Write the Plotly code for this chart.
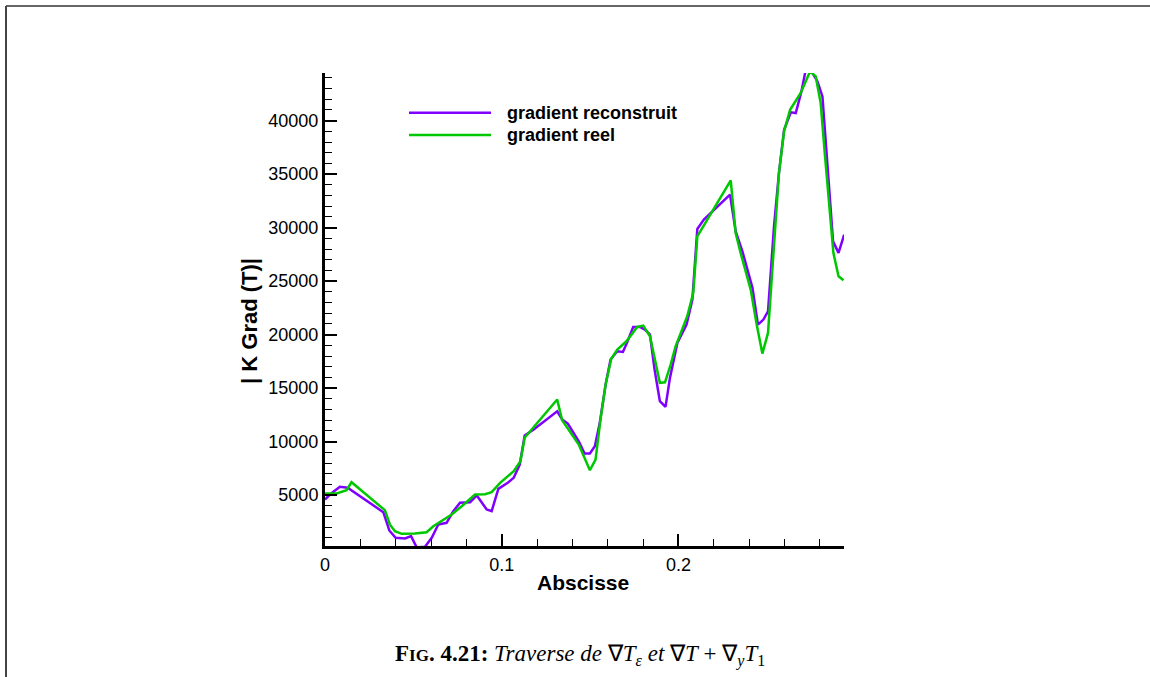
import plotly.graph_objects as go

# ---- data ----
x_reconstruit = [0, 0.0028, 0.0084, 0.0128, 0.033, 0.0364, 0.040, 0.0453, 0.0487, 0.0519,
                 0.0566, 0.0604, 0.0641, 0.0688, 0.0726, 0.0764, 0.0821, 0.0859, 0.0915, 0.0943,
                 0.0981, 0.1034, 0.1068, 0.1102, 0.113, 0.1181, 0.1314, 0.1342, 0.1374, 0.1436,
                 0.1469, 0.1499, 0.1527, 0.1555, 0.1588, 0.1616, 0.1654, 0.1686, 0.171, 0.1744,
                 0.1782, 0.181, 0.1839, 0.1865, 0.1895, 0.1927, 0.1952, 0.1994, 0.2046, 0.2079,
                 0.2107, 0.2144, 0.2292, 0.2324, 0.2362, 0.2419, 0.245, 0.2481, 0.2507, 0.2541,
                 0.2569, 0.2598, 0.2636, 0.2664, 0.2696, 0.272, 0.2749, 0.2787, 0.2815, 0.2844,
                 0.2875, 0.2906, 0.2938]
y_reconstruit = [4595, 5060, 5780, 5690, 3410, 1700, 1020, 950, 1170, 120,
                 180, 1020, 2260, 2420, 3500, 4290, 4340, 4970, 3660, 3500,
                 5590, 6150, 6620, 7860, 10570, 11130, 12840, 12070, 11690, 10040,
                 8890, 8890, 9570, 11760, 15340, 17670, 18450, 18390, 19290, 20720,
                 20720, 20470, 20000, 16740, 13780, 13250, 15960, 19230, 20940, 23270,
                 29880, 30750, 33080, 29650, 27790, 24370, 20940, 21410, 22180, 30120,
                 35110, 39150, 40770, 40710, 42730, 44700, 44700, 43660, 42260, 35420,
                 28720, 27640, 29350]

x_reel = [0, 0.0066, 0.0122, 0.015, 0.0339, 0.0367, 0.0396, 0.0434, 0.0509, 0.0575,
          0.0613, 0.0651, 0.0717, 0.0774, 0.0849, 0.0906, 0.0943, 0.0991, 0.1038, 0.1068,
          0.1106, 0.113, 0.1314, 0.1342, 0.1436, 0.1499, 0.1531, 0.1559, 0.1588, 0.162,
          0.1654, 0.1706, 0.1767, 0.1801, 0.1839, 0.1895, 0.1924, 0.1956, 0.1984, 0.205,
          0.2084, 0.2107, 0.2296, 0.2324, 0.2352, 0.2409, 0.2443, 0.2475, 0.2507, 0.2541,
          0.2569, 0.2598, 0.2632, 0.2692, 0.2745, 0.2777, 0.2805, 0.2828, 0.2853, 0.2877,
          0.2906, 0.2934]
y_reel = [5155, 5155, 5460, 6210, 3600, 2260, 1635, 1390, 1420, 1540,
          2100, 2480, 3190, 3970, 5060, 5090, 5280, 6150, 6770, 7240,
          8170, 10360, 13940, 12000, 9730, 7330, 8330, 12070, 15340, 17740,
          18610, 19380, 20720, 20850, 19850, 15500, 15550, 17200, 18910, 21720,
          23900, 29190, 34420, 29500, 27640, 24210, 20940, 18230, 20160, 28250,
          35110, 39000, 41020, 42580, 44600, 44130, 41650, 36980, 31990, 27640,
          25450, 25080]

series_names = ["gradient reconstruit", "gradient reel"]
series_colors = ["#8000FF", "#00C800"]
x_tickvals = [0, 0.1, 0.2]
x_ticktext = ["0", "0.1", "0.2"]
y_tickvals = [5000, 10000, 15000, 20000, 25000, 30000, 35000, 40000]
y_ticktext = ["5000", "10000", "15000", "20000", "25000", "30000", "35000", "40000"]
x_title = "Abscisse"
y_title = "| K Grad (T)|"
caption = ("<b>F<span style='font-size:17px'>IG</span>. 4.21:</b> "
           "<i>Traverse de </i>∇<i>T<sub>ε</sub> et </i>∇<i>T</i> + ∇<sub><i>y</i></sub><i>T</i><sub>1</sub>")

W, H = 1150, 677
L, R, T, B = 325, 306, 73, 131
pw, ph = W - L - R, H - T - B

def px2paper_x(px):
    return (px - L) / pw

def py2paper_y(py):
    return (H - B - py) / ph

fig = go.Figure()
for xs, ys, name, col in [(x_reconstruit, y_reconstruit, series_names[0], series_colors[0]),
                          (x_reel, y_reel, series_names[1], series_colors[1])]:
    fig.add_trace(go.Scatter(x=xs, y=ys, mode="lines", name=name,
                             line=dict(color=col, width=2.5), showlegend=False))

axis_common = dict(showline=True, linecolor="black", linewidth=3, mirror=False,
                   showgrid=False, zeroline=False, ticks="inside", ticklen=12,
                   tickwidth=2, tickcolor="black",
                   tickfont=dict(family="Liberation Sans", size=18, color="black"))

fig.update_xaxes(range=[0, 0.2937], tickvals=x_tickvals, ticktext=x_ticktext,
                 minor=dict(ticks="inside", dtick=0.02, tick0=0, ticklen=7, tickwidth=1,
                            tickcolor="black", showgrid=False),
                 **axis_common)
fig.update_yaxes(range=[250, 44450], tickvals=y_tickvals, ticktext=y_ticktext,
                 minor=dict(ticks="inside", dtick=1000, tick0=0, ticklen=7, tickwidth=1,
                            tickcolor="black", showgrid=False),
                 **axis_common)

shapes = []
annotations = []
# legend drawn manually
leg_y = [112.7, 135]
for i in range(2):
    shapes.append(dict(type="line", xref="paper", yref="paper",
                       x0=px2paper_x(409), x1=px2paper_x(491),
                       y0=py2paper_y(leg_y[i]), y1=py2paper_y(leg_y[i]),
                       line=dict(color=series_colors[i], width=2.5)))
    annotations.append(dict(xref="paper", yref="paper", x=px2paper_x(505), y=py2paper_y(leg_y[i]),
                            xanchor="left", yanchor="middle", showarrow=False,
                            text="<b>%s</b>" % series_names[i],
                            font=dict(family="Liberation Sans", size=18, color="black")))
# axis titles
annotations.append(dict(xref="paper", yref="paper", x=px2paper_x(583), y=py2paper_y(582),
                        xanchor="center", yanchor="middle", showarrow=False,
                        text="<b>%s</b>" % x_title,
                        font=dict(family="Liberation Sans", size=21, color="black")))
annotations.append(dict(xref="paper", yref="paper", x=px2paper_x(249), y=py2paper_y(321),
                        xanchor="center", yanchor="middle", showarrow=False, textangle=-90,
                        text="<b>%s</b>" % y_title,
                        font=dict(family="Liberation Sans", size=22, color="black")))
# caption
annotations.append(dict(xref="paper", yref="paper", x=px2paper_x(580), y=py2paper_y(655),
                        xanchor="center", yanchor="middle", showarrow=False,
                        text=caption,
                        font=dict(family="Liberation Serif", size=23, color="black")))
# page frame (top and left)
shapes.append(dict(type="line", xref="paper", yref="paper",
                   x0=px2paper_x(6), x1=px2paper_x(1150), y0=py2paper_y(6), y1=py2paper_y(6),
                   line=dict(color="#666666", width=2)))
shapes.append(dict(type="line", xref="paper", yref="paper",
                   x0=px2paper_x(6), x1=px2paper_x(6), y0=py2paper_y(6), y1=py2paper_y(677),
                   line=dict(color="#444444", width=2)))

fig.update_layout(width=W, height=H, margin=dict(l=L, r=R, t=T, b=B),
                  paper_bgcolor="white", plot_bgcolor="white",
                  shapes=shapes, annotations=annotations, showlegend=False)

fig.write_html("out.html", config={"displayModeBar": False},
               post_script="document.body.style.margin='0';document.body.style.overflow='hidden';")
